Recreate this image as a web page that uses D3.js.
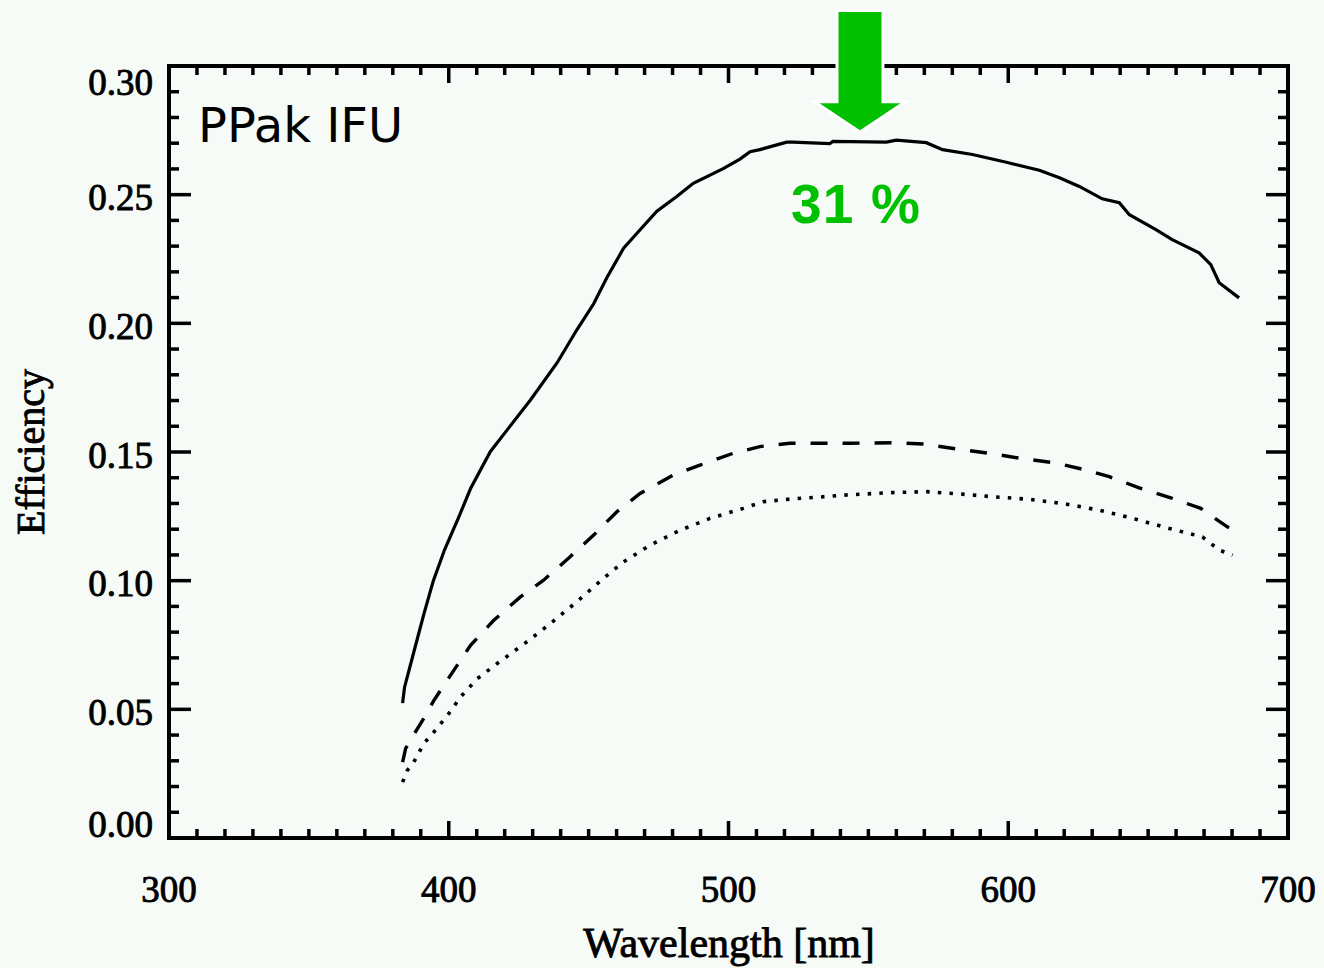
<!DOCTYPE html>
<html>
<head>
<meta charset="utf-8">
<script src="https://cdn.jsdelivr.net/npm/d3@7"></script>
<style>
  html, body { margin: 0; padding: 0; background: #f6fbf8; }
  svg { display: block; }
</style>
</head>
<body>
<div id="chart"></div>
<script>
'use strict';

// wavelength [nm] / efficiency
var solidNm = [383.5, 384.2, 387.4, 391.1, 394.5, 398.5, 403.5, 407.8, 414.9, 420.9, 429.2, 438.7, 445.8, 451.8, 456.5, 462.5, 467.2, 474.4, 481.5, 487.4, 498.1, 504.1, 507.7, 511.2, 520.8, 523.0, 536.2, 537.3, 556.4, 560.0, 570.7, 576.5, 587.2, 599.3, 611.1, 618.3, 625.4, 633.6, 639.7, 643.3, 652.8, 658.6, 668.2, 672.4, 675.4, 682.5];
var solidEff = [0.0524, 0.0586, 0.0718, 0.0870, 0.1000, 0.1120, 0.1245, 0.1358, 0.1502, 0.1586, 0.1702, 0.1846, 0.1975, 0.2076, 0.2177, 0.2292, 0.2349, 0.2436, 0.2493, 0.2544, 0.2601, 0.2638, 0.2667, 0.2675, 0.2704, 0.2704, 0.2698, 0.2707, 0.2704, 0.2712, 0.2702, 0.2675, 0.2656, 0.2626, 0.2595, 0.2566, 0.2532, 0.2484, 0.2469, 0.2422, 0.2364, 0.2325, 0.2274, 0.2228, 0.2158, 0.2099];

var dashNm = [383.5, 384.6, 388.1, 391.1, 394.7, 400.6, 407.8, 416.1, 425.6, 433.9, 443.4, 451.8, 460.1, 468.4, 480.3, 489.8, 501.7, 511.2, 521.9, 543.4, 559.4, 569.5, 581.4, 593.3, 604.6, 616.5, 627.8, 636.1, 646.8, 658.1, 668.8, 678.3, 681.4];
var dashEff = [0.0295, 0.0348, 0.0412, 0.0465, 0.0535, 0.0632, 0.0749, 0.0846, 0.0937, 0.1002, 0.1093, 0.1177, 0.1268, 0.1339, 0.1411, 0.1449, 0.1495, 0.1521, 0.1534, 0.1534, 0.1536, 0.1531, 0.1512, 0.1495, 0.1475, 0.1458, 0.1430, 0.1404, 0.1361, 0.1322, 0.1281, 0.1209, 0.1193];

var dotNm = [383.5, 385.2, 387.5, 391.1, 394.7, 400.0, 404.2, 410.2, 417.3, 426.8, 436.3, 445.8, 455.3, 462.5, 472.0, 482.7, 493.4, 505.3, 512.4, 521.9, 533.8, 542.2, 557.6, 570.7, 582.6, 594.5, 607.6, 619.5, 632.6, 644.5, 657.5, 669.4, 675.4, 680.2];
var dotEff = [0.0217, 0.0263, 0.0295, 0.0367, 0.0412, 0.0483, 0.0548, 0.0619, 0.0678, 0.0753, 0.0833, 0.0918, 0.1009, 0.1073, 0.1138, 0.1196, 0.1242, 0.1281, 0.1307, 0.1317, 0.1326, 0.1333, 0.1342, 0.1346, 0.1337, 0.1326, 0.1316, 0.1300, 0.1274, 0.1242, 0.1203, 0.1170, 0.1119, 0.1099];

var xTicks = [300, 400, 500, 600, 700];
var yTicks = [0.00, 0.05, 0.10, 0.15, 0.20, 0.25, 0.30];
var peakNm = 547;
var peakEff = 0.275;
var peakLabel = '31 %';
var panelLabel = 'PPak IFU';

var W = 1324, H = 968;
var plotLeft = 169, plotRight = 1288, plotTop = 66, plotBottom = 838;

var svg = d3.select('#chart').append('svg')
  .attr('width', W)
  .attr('height', H);

svg.append('rect')
  .attr('width', W)
  .attr('height', H)
  .attr('fill', '#f6fbf8');

var x = d3.scaleLinear().domain([300, 700]).range([plotLeft, plotRight]);
var y = d3.scaleLinear().domain([0, 0.30]).range([plotBottom, plotTop]);

// ticks on all four sides
var xMinor = d3.range(300, 701, 10);
var yMinor = d3.range(0, 0.3001, 0.01);

function isMajorX(v) { return Math.abs(v % 100) < 1e-6; }
function isMajorY(v) { return Math.round(v * 100) % 5 === 0; }

var ticks = svg.append('g')
  .attr('stroke', '#000')
  .attr('stroke-width', 3.5);

xMinor.forEach(function(v) {
  var len = isMajorX(v) ? 17 : 9;
  ticks.append('line').attr('x1', x(v)).attr('x2', x(v)).attr('y1', plotBottom).attr('y2', plotBottom - len);
  ticks.append('line').attr('x1', x(v)).attr('x2', x(v)).attr('y1', plotTop).attr('y2', plotTop + len);
});

yMinor.forEach(function(v) {
  var len = isMajorY(v) ? 22 : 10;
  ticks.append('line').attr('y1', y(v)).attr('y2', y(v)).attr('x1', plotLeft).attr('x2', plotLeft + len);
  ticks.append('line').attr('y1', y(v)).attr('y2', y(v)).attr('x1', plotRight).attr('x2', plotRight - len);
});

svg.append('rect')
  .attr('x', plotLeft)
  .attr('y', plotTop)
  .attr('width', plotRight - plotLeft)
  .attr('height', plotBottom - plotTop)
  .attr('fill', 'none')
  .attr('stroke', '#000')
  .attr('stroke-width', 4);

// tick labels
var serif = '"Liberation Serif", "Times New Roman", serif';

svg.append('g').selectAll('text')
  .data(xTicks)
  .enter()
  .append('text')
  .attr('x', function(d) { return x(d); })
  .attr('y', 902)
  .attr('text-anchor', 'middle')
  .attr('font-family', serif)
  .attr('font-size', 37)
  .attr('fill', '#000')
  .attr('stroke', '#000')
  .attr('stroke-width', 0.9)
  .text(function(d) { return d; });

svg.append('g').selectAll('text')
  .data(yTicks)
  .enter()
  .append('text')
  .attr('x', 153)
  .attr('y', function(d) {
    var c = Math.max(plotTop + 16.5, Math.min(plotBottom - 14, y(d) + 3));
    return c + 12.5;
  })
  .attr('text-anchor', 'end')
  .attr('font-family', serif)
  .attr('font-size', 37)
  .attr('fill', '#000')
  .attr('stroke', '#000')
  .attr('stroke-width', 0.9)
  .text(function(d) { return d.toFixed(2); });

svg.append('text')
  .attr('x', 729)
  .attr('y', 957)
  .attr('text-anchor', 'middle')
  .attr('font-family', serif)
  .attr('font-size', 42)
  .attr('stroke', '#000')
  .attr('stroke-width', 0.9)
  .text('Wavelength [nm]');

svg.append('text')
  .attr('transform', 'translate(44,452) rotate(-90)')
  .attr('text-anchor', 'middle')
  .attr('font-family', serif)
  .attr('font-size', 40)
  .attr('stroke', '#000')
  .attr('stroke-width', 0.9)
  .text('Efficiency');

// curves
var line = d3.line()
  .x(function(d) { return x(d[0]); })
  .y(function(d) { return y(d[1]); });

var curves = [
  { nm: solidNm, eff: solidEff, dash: null, w: 3.2 },
  { nm: dashNm, eff: dashEff, dash: '17,15', w: 3.4 },
  { nm: dotNm, eff: dotEff, dash: '3.5,8.2', w: 3.6 }
];

curves.forEach(function(c) {
  var pts = c.nm.map(function(v, i) { return [v, c.eff[i]]; });
  svg.append('path')
    .datum(pts)
    .attr('d', line)
    .attr('fill', 'none')
    .attr('stroke', '#000')
    .attr('stroke-width', c.w)
    .attr('stroke-dasharray', c.dash);
});

// panel label
svg.append('text')
  .attr('x', 198)
  .attr('y', 142)
  .attr('font-family', '"DejaVu Sans", sans-serif')
  .attr('font-size', 48)
  .attr('fill', '#000')
  .text(panelLabel);

// green arrow pointing at the peak
var ax = x(peakNm), ay = y(peakEff);
var arrow = [
  [ax - 21.5, 12], [ax + 21.5, 12], [ax + 21.5, ay - 27],
  [ax + 40.5, ay - 27], [ax, ay], [ax - 40.5, ay - 27], [ax - 21.5, ay - 27]
];
svg.append('polygon')
  .attr('points', arrow.map(function(p) { return p.join(','); }).join(' '))
  .attr('fill', '#00c000')
  .attr('stroke', '#ffffff')
  .attr('stroke-width', 6)
  .attr('stroke-linejoin', 'miter')
  .style('paint-order', 'stroke');

svg.append('text')
  .attr('x', 791)
  .attr('y', 223)
  .attr('textLength', 129)
  .attr('lengthAdjust', 'spacing')
  .attr('font-family', '"Liberation Sans", Arial, sans-serif')
  .attr('font-weight', 'bold')
  .attr('font-size', 55)
  .attr('fill', '#00c000')
  .text(peakLabel);
</script>
</body>
</html>
